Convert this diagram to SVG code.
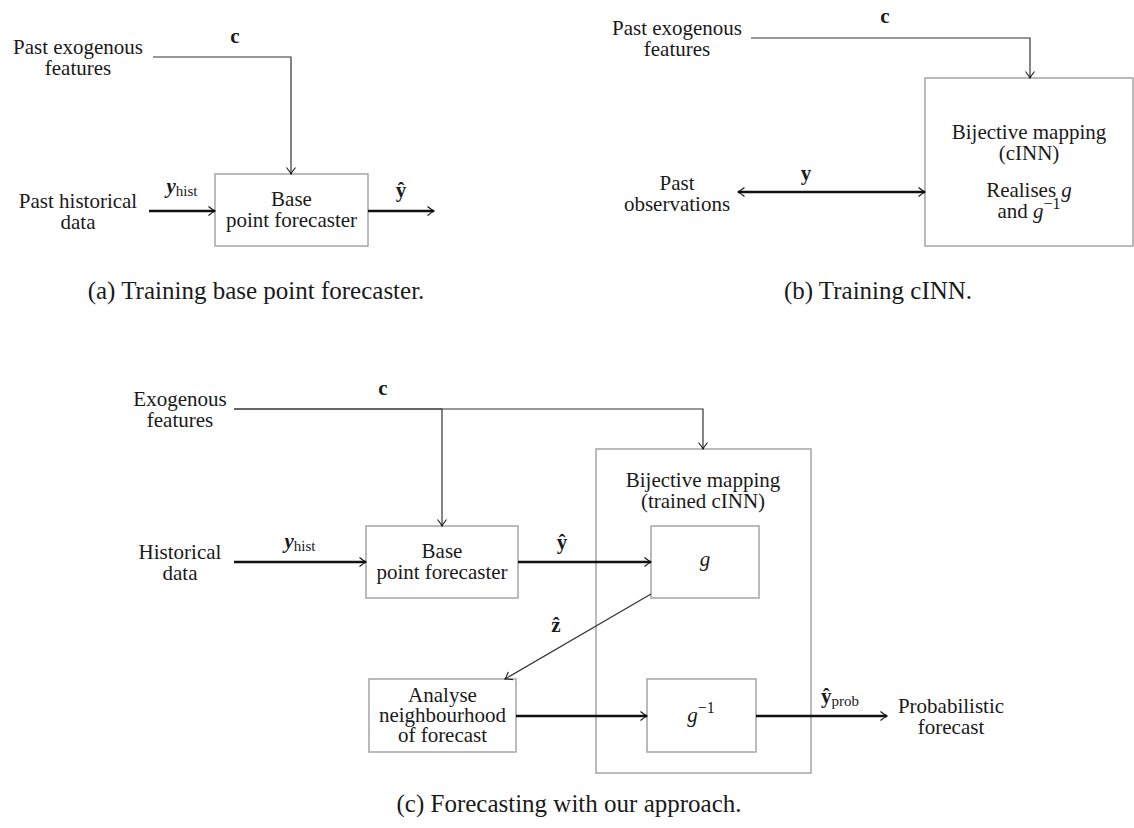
<svg xmlns="http://www.w3.org/2000/svg" width="1134" height="828" viewBox="0 0 1134 828">
<style>
text{font-family:"Liberation Serif","DejaVu Serif",serif;font-size:21px;fill:#1a1a1a;text-anchor:middle}
.cap{font-size:25px}
.b{font-weight:bold}
.bi{font-weight:bold;font-style:italic}
.i{font-style:italic}
.sub{font-size:15px}
.sup{font-size:16px}
.box{fill:none;stroke:#aaaaaa;stroke-width:1.6}
.thin{fill:none;stroke:#333;stroke-width:1.2}
.thick{fill:none;stroke:#111;stroke-width:2.6}
</style>
<defs>
<marker id="arr" markerUnits="userSpaceOnUse" markerWidth="9" markerHeight="12" viewBox="0 0 9 12" refX="8" refY="6" orient="auto-start-reverse">
<path d="M1.5,1.5 C4,3.5 6.5,5.3 8,6 C6.5,6.7 4,8.5 1.5,10.5" fill="none" stroke="#111" stroke-width="1.1"/>
</marker>
</defs>

<!-- (a) -->
<g id="a-exo"><text x="78" y="54">Past exogenous</text><text x="78" y="75">features</text></g>
<g id="a-hist"><text x="78" y="208">Past historical</text><text x="78" y="229">data</text></g>
<g id="a-base"><rect class="box" x="215" y="174" width="153" height="72"/><text x="291.5" y="206">Base</text><text x="291.5" y="227">point forecaster</text></g>

<!-- (b) -->
<g id="b-exo"><text x="677" y="35">Past exogenous</text><text x="677" y="56">features</text></g>
<g id="b-obs"><text x="677" y="190">Past</text><text x="677" y="211">observations</text></g>
<g id="b-cinn"><rect class="box" x="925" y="78" width="208" height="168"/>
<text x="1029" y="139">Bijective mapping</text><text x="1029" y="160">(cINN)</text>
<text x="1029" y="197">Realises <tspan class="i">g</tspan></text>
<text x="1029" y="218">and <tspan class="i">g</tspan><tspan class="sup" dy="-9">−1</tspan></text></g>

<!-- (c) -->
<g id="c-exo"><text x="180" y="406">Exogenous</text><text x="180" y="427">features</text></g>
<g id="c-hist"><text x="180" y="559">Historical</text><text x="180" y="580">data</text></g>
<g id="c-base"><rect class="box" x="366" y="526" width="152" height="72"/><text x="442" y="558">Base</text><text x="442" y="579">point forecaster</text></g>
<g id="c-cinn"><rect class="box" x="596" y="449" width="215" height="324"/><text x="703" y="487">Bijective mapping</text><text x="703" y="508">(trained cINN)</text></g>
<g id="c-g"><rect class="box" x="651" y="526" width="108" height="72"/><text class="i" x="705" y="566">g</text></g>
<g id="c-ginv"><rect class="box" x="647" y="679" width="109" height="73"/><text x="701" y="722"><tspan class="i">g</tspan><tspan class="sup" dy="-9">−1</tspan></text></g>
<g id="c-analyse"><rect class="box" x="369" y="679" width="147" height="73"/><text x="442.5" y="702">Analyse</text><text x="442.5" y="722">neighbourhood</text><text x="442.5" y="742">of forecast</text></g>
<g id="c-prob"><text x="951" y="713">Probabilistic</text><text x="951" y="734">forecast</text></g>

<!-- connectors -->
<g id="connectors">
<path class="thin" d="M153,57 H291 V174" marker-end="url(#arr)"/>
<path class="thick" d="M149,211 H215" marker-end="url(#arr)"/>
<path class="thick" d="M368,211 H434" marker-end="url(#arr)"/>
<path class="thin" d="M751,38 H1030 V78" marker-end="url(#arr)"/>
<path class="thick" d="M738,192 H925" marker-start="url(#arr)" marker-end="url(#arr)"/>
<path class="thin" d="M234,409 H442 V526" marker-end="url(#arr)"/>
<path class="thin" d="M234,409 H703 V449" marker-end="url(#arr)"/>
<path class="thick" d="M234,562 H366" marker-end="url(#arr)"/>
<path class="thick" d="M518,562 H651" marker-end="url(#arr)"/>
<path class="thin" d="M651,594 L505,679" marker-end="url(#arr)"/>
<path class="thick" d="M516,716 H647" marker-end="url(#arr)"/>
<path class="thick" d="M756,716 H887" marker-end="url(#arr)"/>
<text class="b" x="235" y="43">c</text>
<text x="182" y="193"><tspan class="bi">y</tspan><tspan class="sub" dy="3">hist</tspan></text>
<text class="b" x="401" y="197">ŷ</text>
<text class="b" x="885" y="23">c</text>
<text class="b" x="806" y="180">y</text>
<text class="b" x="383" y="395">c</text>
<text x="300" y="548"><tspan class="bi">y</tspan><tspan class="sub" dy="3">hist</tspan></text>
<text class="b" x="562" y="549">ŷ</text>
<text class="b" x="556" y="632">ẑ</text>
<text x="840" y="703"><tspan class="b">ŷ</tspan><tspan class="sub" dy="3">prob</tspan></text>
</g>

<!-- captions -->
<text class="cap" x="256" y="299">(a) Training base point forecaster.</text>
<text class="cap" x="878" y="299">(b) Training cINN.</text>
<text class="cap" x="569" y="812">(c) Forecasting with our approach.</text>
</svg>
